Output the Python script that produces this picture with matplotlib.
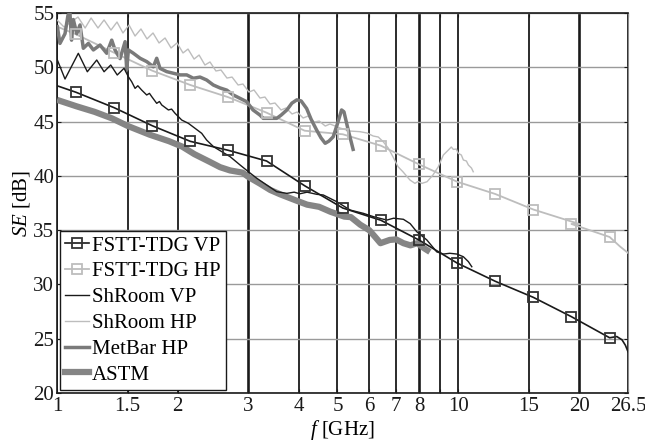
import matplotlib
matplotlib.use("Agg")
import matplotlib.pyplot as plt
from matplotlib.lines import Line2D
from matplotlib.ticker import NullLocator

plt.rcParams['font.family'] = ['Liberation Serif', 'DejaVu Serif']
plt.rcParams['mathtext.fontset'] = 'custom'
plt.rcParams['mathtext.rm'] = 'Liberation Serif'
plt.rcParams['mathtext.it'] = 'Liberation Serif:italic'

# Marker frequencies (GHz) shared by both FSTT-TDG curves
mark_f = [1.115, 1.388, 1.727, 2.149, 2.675, 3.329, 4.142, 5.155,
          6.416, 7.985, 9.937, 12.37, 15.39, 19.15, 23.84]
vp_mark = [47.70, 46.28, 44.62, 43.18, 42.35, 41.37, 39.09, 37.04,
           35.91, 34.09, 31.97, 30.29, 28.81, 27.03, 25.09]
hp_mark = [53.04, 51.34, 49.69, 48.37, 47.24, 45.82, 44.16, 43.83,
           42.78, 41.06, 39.46, 38.33, 36.90, 35.57, 34.37]

# FSTT-TDG VP line
vp_f = [1.0] + mark_f + [24.85, 25.6, 26.1, 26.5]
vp_se = [48.3] + vp_mark + [25.2, 24.9, 24.4, 23.8]

# FSTT-TDG HP line
hp_f = [1.0] + mark_f[:13] + [20.1] + mark_f[13:] + [25.3, 26.3, 26.5]
hp_se = [53.75] + hp_mark[:13] + [35.55] + hp_mark[13:] + [33.5, 33.0, 32.9]

# ShRoom VP
shvp_f = [1.002, 1.047, 1.130, 1.190, 1.256, 1.310, 1.361, 1.413, 1.469, 1.506,
          1.535, 1.565, 1.59, 1.626, 1.673, 1.70, 1.722, 1.772, 1.80, 1.824,
          1.895, 1.93, 1.969, 2.046, 2.125, 2.208, 2.294, 2.36, 2.455, 2.55,
          2.70, 2.86, 3.0, 3.15, 3.33, 3.53, 3.74, 3.9, 4.03, 4.2, 4.44, 4.61,
          4.98, 5.38, 5.80, 6.15, 6.64, 6.90, 7.30, 7.59, 7.88, 8.35, 8.84,
          9.19, 9.53, 9.92, 10.3, 10.6, 10.81]
shvp_se = [50.67, 48.92, 51.29, 49.59, 50.67, 49.59, 50.21, 49.29, 49.91, 49.13,
           48.67, 48.06, 48.3, 47.9, 47.45, 47.6, 47.3, 46.68, 46.85, 46.53,
           46.07, 46.15, 45.76, 45.14, 44.84, 44.38, 43.92, 43.3, 42.69, 42.32,
           41.77, 41.0, 40.38, 39.77, 39.16, 38.54, 38.39, 38.5, 38.35, 38.5, 38.3, 38.24,
           37.62, 36.85, 36.55, 36.24, 35.93, 36.1, 36.0, 35.6, 34.86, 34.1, 33.0,
           32.8, 32.87, 32.8, 32.55, 32.1, 31.63]

# ShRoom HP
shhp_f = [1.000, 1.041, 1.128, 1.175, 1.216, 1.265, 1.310, 1.363, 1.411, 1.460,
          1.512, 1.565, 1.619, 1.676, 1.735, 1.796, 1.859, 1.924, 1.991, 2.061,
          2.121, 2.196, 2.260, 2.337, 2.406, 2.489, 2.563, 2.652, 2.731, 2.827,
          2.907, 3.009, 3.097, 3.205, 3.298, 3.395, 3.494, 3.617, 3.723, 3.854,
          3.966, 4.106, 4.226, 4.375, 4.503, 4.662, 4.79, 5.073, 5.372, 5.690,
          5.92, 6.14, 6.32, 6.50, 6.69, 6.88, 7.08, 7.28, 7.58, 7.80, 7.94,
          8.12, 8.36, 8.65, 8.92, 9.18, 9.45, 9.61, 9.72, 9.89, 10.0, 10.18,
          10.3, 10.48, 10.6, 10.79, 10.9]
shhp_se = [54.36, 53.71, 54.63, 53.62, 54.54, 53.62, 54.36, 53.43, 54.17, 53.16,
           53.89, 52.88, 53.53, 52.61, 53.16, 52.24, 52.70, 51.78, 52.24, 51.32,
           51.68, 50.76, 51.13, 50.21, 50.49, 49.66, 49.75, 49.01, 49.10, 48.37,
           48.46, 47.72, 47.91, 47.17, 47.26, 46.62, 46.71, 46.07, 46.25, 45.70,
           45.88, 45.33, 45.51, 44.96, 45.05, 44.59, 44.78, 44.41, 44.13, 44.07,
           43.95, 43.67, 43.58, 43.15, 42.57, 41.74, 40.84, 40.38, 39.62, 39.31, 39.48,
           39.31, 39.46, 40.08, 40.84, 41.92, 42.38, 42.66, 42.44, 42.47, 42.08, 41.92,
           41.46, 41.37, 41.0, 40.72, 40.38]

# MetBar HP
mb_f = [1.002, 1.017, 1.047, 1.065, 1.077, 1.087, 1.098, 1.12, 1.141, 1.163,
        1.197, 1.232, 1.28, 1.33, 1.369, 1.395, 1.436, 1.478, 1.492, 1.506,
        1.549, 1.611, 1.674, 1.738, 1.772, 1.806, 1.877, 1.95, 2.026, 2.105,
        2.187, 2.272, 2.36, 2.452, 2.548, 2.648, 2.75, 2.858, 2.97, 3.08,
        3.205, 3.265, 3.53, 3.62, 3.74, 3.85, 3.96, 4.06, 4.19, 4.3, 4.44,
        4.55, 4.66, 4.76, 4.88, 4.99, 5.12, 5.19, 5.32, 5.47]
mb_se = [53.74, 52.2, 53.1, 54.8, 55.0, 52.5, 54.4, 53.1, 53.9, 51.75,
         52.2, 51.6, 52.05, 51.29, 52.5, 51.6, 50.8, 52.36, 49.75, 51.6,
         51.3, 50.83, 50.52, 50.05, 50.83, 49.9, 49.6, 49.45, 49.3, 49.3,
         48.99, 49.1, 48.83, 48.37, 48.1, 47.9, 47.45, 47.14, 46.83, 46.07,
         45.6, 45.3, 45.3, 45.6, 46.07, 46.7, 47.0, 46.9, 46.2, 45.2, 44.2,
         43.5, 43.0, 43.2, 43.6, 44.7, 46.07, 45.9, 44.2, 42.44]

# ASTM
astm_f = [1.0, 1.12, 1.24, 1.37, 1.5, 1.7, 1.9, 2.05, 2.2, 2.4, 2.55, 2.7, 2.9,
          3.0, 3.2, 3.4, 3.6, 3.9, 4.2, 4.5, 4.8, 5.2, 5.4, 5.7, 6.0, 6.2, 6.4,
          6.75, 7.0, 7.3, 7.6, 7.9, 8.25, 8.5]
astm_se = [47.0, 46.4, 45.9, 45.3, 44.6, 43.8, 43.2, 42.7, 42.0, 41.3, 40.8, 40.5, 40.3,
           39.9, 39.3, 38.7, 38.3, 37.8, 37.35, 37.15, 36.7, 36.25, 36.2, 35.5, 35.0, 34.4, 33.8,
           34.1, 34.15, 33.8, 33.6, 33.8, 33.3, 33.0]

xticks = [1, 1.5, 2, 3, 4, 5, 6, 7, 8, 9, 10, 15, 20, 26.5]
xlabels = ['1', '1.5', '2', '3', '4', '5', '6', '7', '8', '', '10', '15', '20', '26.5']
yticks = [20, 25, 30, 35, 40, 45, 50, 55]

black = '#1a1a1a'
light = '#bdbdbd'
fs = 15

fig = plt.figure(figsize=(6.45, 4.41), dpi=100)
ax = fig.add_axes([0.0884, 0.1088, 0.8853, 0.8617])

ax.plot(shhp_f, shhp_se, color=light, lw=1.0, zorder=3)
ax.plot(hp_f, hp_se, color=light, lw=1.3, zorder=3)
ax.plot(mark_f, hp_mark, ls='none', marker='s', ms=7, mfc='none', mec=light, mew=1.3, zorder=4)
ax.plot(astm_f, astm_se, color='#858585', lw=4.5, zorder=3, solid_capstyle='butt')
ax.plot(mb_f, mb_se, color='#7a7a7a', lw=2.5, zorder=3)
ax.plot(shvp_f, shvp_se, color=black, lw=1.0, zorder=5)
ax.plot(vp_f, vp_se, color=black, lw=1.2, zorder=5)
ax.plot(mark_f, vp_mark, ls='none', marker='s', ms=7, mfc='none', mec='#333333', mew=1.3, zorder=6)

ax.set_xscale('log')
ax.set_xlim(1, 26.5)
ax.set_ylim(20, 55)
ax.set_xticks(xticks)
ax.set_xticklabels(xlabels)
ax.xaxis.set_minor_locator(NullLocator())
ax.set_yticks(yticks)

ax.grid(axis='x', color=black, lw=1.3)
ax.grid(axis='y', color='#9a9a9a', lw=1.0)
for tick, gl in zip(xticks, ax.xaxis.get_gridlines()):
    if tick in (3, 8, 20):
        gl.set_linewidth(1.9)
ax.set_axisbelow(True)

ax.tick_params(direction='in', length=3, top=True, right=True, labelsize=fs,
               colors=black)
ax.tick_params(axis='x', pad=3)
ax.tick_params(axis='y', pad=2)
for s in ('left', 'top', 'bottom'):
    ax.spines[s].set_color(black)
    ax.spines[s].set_linewidth(1.2)
ax.spines['right'].set_color('#8a8a8a')

ax.set_xlabel(r'$f$ [GHz]', fontsize=fs, labelpad=1)
ax.set_ylabel(r'$SE$ [dB]', fontsize=fs, labelpad=1)

handles = [
    Line2D([], [], color=black, lw=1.2, marker='s', ms=7, mfc='none', mec='#333333', mew=1.3),
    Line2D([], [], color=light, lw=1.3, marker='s', ms=7, mfc='none', mec=light, mew=1.3),
    Line2D([], [], color=black, lw=1.0),
    Line2D([], [], color=light, lw=1.0),
    Line2D([], [], color='#7a7a7a', lw=2.5),
    Line2D([], [], color='#858585', lw=4.5),
]
labels = ['FSTT-TDG VP', 'FSTT-TDG HP', 'ShRoom VP', 'ShRoom HP', 'MetBar HP', 'ASTM']
leg = ax.legend(handles, labels, loc='lower left', bbox_to_anchor=(0.005, 0.008),
                borderaxespad=0, fontsize=fs, labelspacing=0.3, handlelength=1.15,
                handletextpad=0.15, borderpad=0.25, fancybox=False, framealpha=1,
                edgecolor=black)
leg.get_frame().set_linewidth(1.0)
leg.set_zorder(10)

fig.savefig('out.png', dpi=100)
